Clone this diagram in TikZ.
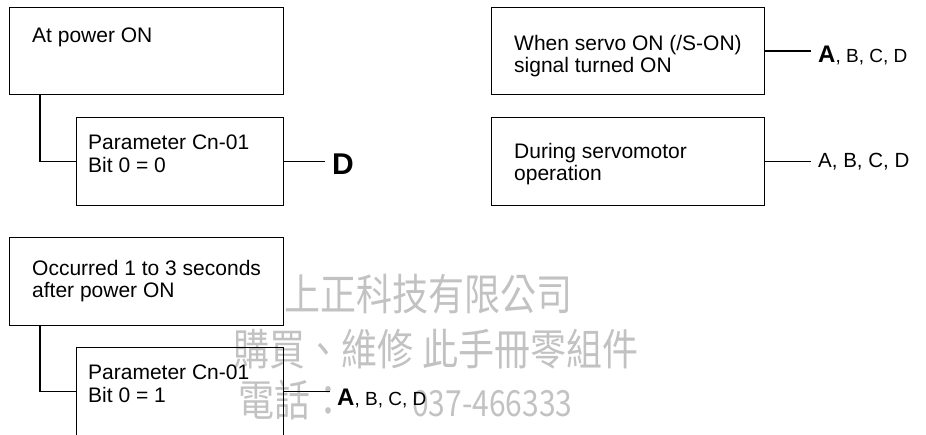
\documentclass[tikz,border=0pt]{standalone}
\usepackage{graphicx}
\usepackage{fontspec}
\setmainfont{Liberation Sans}
\newfontfamily\cjkfont{Noto Sans CJK TC}

\begin{document}
\begin{tikzpicture}[x=1pt, y=-1pt,
evbox/.style={draw, line width=1.3pt, rectangle, anchor=north west, inner sep=0pt,
              minimum width=274pt, minimum height=87pt},
parbox/.style={evbox, minimum width=207pt, minimum height=88pt},
txt/.style={anchor=north west, inner sep=0pt, align=left, font=\fontsize{21}{22.5}\selectfont},
res/.style={anchor=base west, inner sep=0pt},
lnk/.style={line width=1.3pt},
reslnk/.style={lnk, shorten >=7pt},
wm/.style={anchor=west, inner sep=0pt, text=black!24, font=\cjkfont\fontsize{36}{36}\selectfont},
]
\useasboundingbox (0,0) rectangle (926,435);
\clip (0,0) rectangle (926,435);

\node[wm] (wm1) at (284,294) {\scalebox{1}[1.2]{上正科技有限公司}};
\node[wm] (wm2) at (233,349) {\scalebox{1}[1.2]{購買、維修\hspace{9pt}此手冊零組件}};
\node[wm] (wm3) at (238,400) {\scalebox{1}[1.2]{電話：\hspace{66pt}{\fontsize{30}{30}\selectfont 037-466333}}};

\node[evbox] (pwr) at (9,7) {};
\node[parbox] (par0) at (76,117) {};
\node[evbox, minimum width=273pt] (son) at (491,7) {};
\node[evbox, minimum width=273pt, minimum height=88pt] (run) at (491,117) {};
\node[evbox, minimum height=88pt] (occ) at (9,237) {};
\node[parbox] (par1) at (76,347) {};

\node[txt] (pwrt) at (32,28) {At power ON};
\node[txt] (par0t) at (88,135) {Parameter Cn-01\\Bit 0 = 0};
\node[txt] (sont) at (514,35) {When servo ON (/S-ON)\\signal turned ON};
\node[txt] (runt) at (514,143) {During servomotor\\operation};
\node[txt] (occt) at (32,260) {Occurred 1 to 3 seconds\\after power ON};
\node[txt] (par1t) at (88,365) {Parameter Cn-01\\Bit 0 = 1};

\node[res] (dres) at (332,175) {\fontsize{30}{30}\selectfont\bfseries D};
\node[res] (sonres) at (818,63) {{\fontsize{24}{24}\selectfont\bfseries A}\fontsize{19}{19}\selectfont, B, C, D};
\node[res] (runres) at (818,168) {\fontsize{20.5}{20.5}\selectfont A, B, C, D};
\node[res] (par1res) at (337,405) {{\fontsize{24}{24}\selectfont\bfseries A}\fontsize{19}{19}\selectfont, B, C, D};

\draw[lnk] ([xshift=31pt]pwr.south west) |- (par0.west);
\draw[lnk] ([xshift=31pt]occ.south west) |- (par1.west);
\draw[reslnk] (par0.east) -- (par0.east -| dres.west);
\draw[reslnk] (son.east) -- (son.east -| sonres.west);
\draw[reslnk] (run.east) -- (run.east -| runres.west);
\draw[reslnk] (par1.east) -- (par1.east -| par1res.west);
\end{tikzpicture}
\end{document}
